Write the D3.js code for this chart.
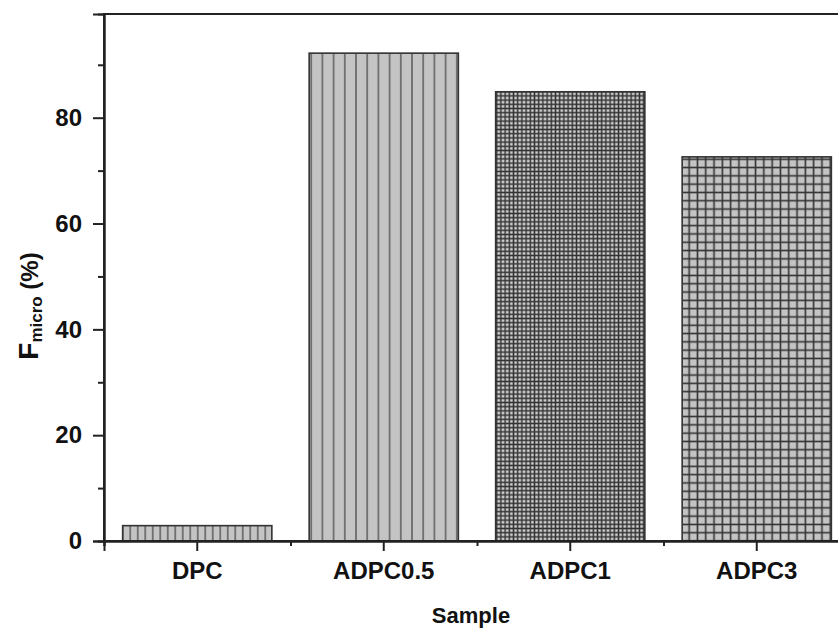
<!DOCTYPE html>
<html>
<head>
<meta charset="utf-8">
<script src="https://cdn.jsdelivr.net/npm/d3@7"></script>
<style>
  body { margin: 0; background: #fff; }
  text { font-family: "Liberation Sans", Arial, sans-serif; font-weight: bold; fill: #111; }
</style>
</head>
<body>
<div id="chart"></div>
<script>
// DATA
let samples = ["DPC", "ADPC0.5", "ADPC1", "ADPC3"]
let fmicro = [2.9, 92.2, 84.9, 72.6]
let major_y = [0, 20, 40, 60, 80]
let minor_y = [10, 30, 50, 70, 90]
let patterns = ["vlines_fine", "vlines_wide", "grid_fine", "grid_wide"]

// CHART AREA
let margin = {top: 14, left: 104, bottom: 87},
    width = 746,
    height = 628 - margin.top - margin.bottom;

let svg = d3.select("#chart").append("svg")
    .attr("width", 838)
    .attr("height", 628)

// PATTERNS
let defs = svg.append("defs")

function vlines(id, step) {
    let p = defs.append("pattern").attr("id", id)
        .attr("patternUnits", "userSpaceOnUse")
        .attr("width", step).attr("height", 10)
    p.append("rect").attr("width", step).attr("height", 10).attr("fill", "#c4c4c4")
    p.append("line").attr("x1", step / 2).attr("x2", step / 2).attr("y1", 0).attr("y2", 10)
        .attr("stroke", "#555").attr("stroke-width", 1.4)
}
function grid(id, step, fill, sw) {
    let p = defs.append("pattern").attr("id", id)
        .attr("patternUnits", "userSpaceOnUse")
        .attr("width", step).attr("height", step)
    p.append("rect").attr("width", step).attr("height", step).attr("fill", fill)
    p.append("line").attr("x1", step / 2).attr("x2", step / 2).attr("y1", 0).attr("y2", step)
        .attr("stroke", "#333").attr("stroke-width", sw)
    p.append("line").attr("y1", step / 2).attr("y2", step / 2).attr("x1", 0).attr("x2", step)
        .attr("stroke", "#333").attr("stroke-width", sw)
}
vlines("vlines_fine", 7.5)
vlines("vlines_wide", 11.2)
grid("grid_fine", 4.2, "#cfcfcf", 1.5)
grid("grid_wide", 8.3, "#c4c4c4", 1.6)

let g = svg.append("g")
    .attr("transform", "translate(" + margin.left + "," + margin.top + ")")

// SCALES
let x = d3.scaleBand()
    .domain(samples)
    .range([0, width])
    .paddingInner(0.2)
    .paddingOuter(0.1)

let x_minor = d3.scaleLinear()
    .domain([0, samples.length])
    .range([0, width])

let y = d3.scaleLinear()
    .domain([0, 99.6])
    .range([height, 0])

// BARS
g.selectAll(".bar")
    .data(samples)
    .enter()
    .append("rect")
    .attr("class", "bar")
    .attr("x", d => x(d))
    .attr("width", x.bandwidth())
    .attr("y", (d, i) => y(fmicro[i]))
    .attr("height", (d, i) => height - y(fmicro[i]))
    .attr("fill", (d, i) => "url(#" + patterns[i] + ")")
    .attr("stroke", "#333")
    .attr("stroke-width", 1.6)

// FRAME
g.append("rect")
    .attr("width", width).attr("height", height)
    .attr("fill", "none").attr("stroke", "#222").attr("stroke-width", 2)

// AXES
let xAxis = d3.axisBottom(x).tickSize(10).tickPadding(11)
let xAxisMinor = d3.axisBottom(x_minor).tickValues(d3.range(samples.length + 1)).tickSize(5).tickFormat("")
let yAxis = d3.axisLeft(y).tickValues(major_y).tickSize(11).tickPadding(11)
let yAxisMinor = d3.axisLeft(y).tickValues(minor_y).tickSize(6).tickFormat("")

g.append("g").attr("class", "axis").attr("transform", "translate(0," + height + ")").call(xAxis)
g.append("g").attr("class", "axis").attr("transform", "translate(0," + height + ")").call(xAxisMinor)
g.append("g").attr("class", "axis").call(yAxis)
g.append("g").attr("class", "axis").call(yAxisMinor)

g.selectAll(".axis path").attr("stroke", "#222").attr("stroke-width", 2)
g.selectAll(".axis line").attr("stroke", "#222").attr("stroke-width", 2)
g.selectAll(".axis text").style("font-size", "24px").attr("fill", "#111")
    .style("font-family", "'Liberation Sans', Arial, sans-serif").style("font-weight", "bold")

// AXIS TITLES
svg.append("text")
    .attr("x", 471).attr("y", 623)
    .attr("text-anchor", "middle")
    .style("font-size", "22px")
    .text("Sample")

let ytitle = svg.append("text")
    .attr("transform", "translate(38,306) rotate(-90)")
    .attr("text-anchor", "middle")
ytitle.append("tspan").style("font-size", "28px").text("F")
ytitle.append("tspan").style("font-size", "17px").attr("dy", 4).text("micro")
ytitle.append("tspan").style("font-size", "24px").attr("dy", -4).text(" (%)")
</script>
</body>
</html>
